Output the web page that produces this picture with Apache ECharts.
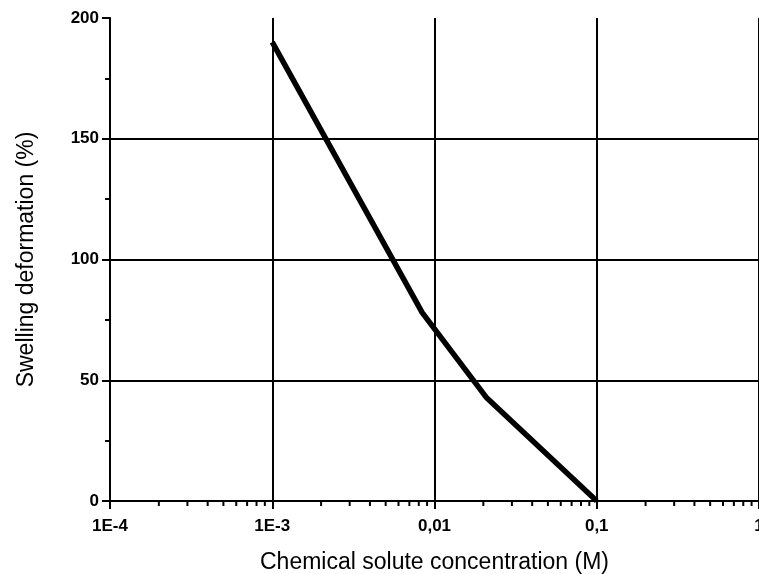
<!DOCTYPE html>
<html><head><meta charset="utf-8">
<script src="https://cdn.jsdelivr.net/npm/echarts@6/dist/echarts.min.js"></script>
<style>html,body{margin:0;padding:0;background:#fff}#c{width:759px;height:574px}</style>
</head><body><div id="c"></div>
<script>
const concentration = [0.001, 0.0084, 0.0208, 0.1];
const swelling = [190, 78, 43, 0];
const xTickLabels = {'-4':'1E-4','-3':'1E-3','-2':'0,01','-1':'0,1','0':'1'};
const yTicks = [0, 50, 100, 150, 200];

const chart = echarts.init(document.getElementById('c'));
const font = 'Liberation Sans, Arial, sans-serif';
chart.setOption({
  animation: false,
  grid: {left: 110, right: 0, top: 18, bottom: 73, containLabel: false, outerBoundsMode: 'none'},
  xAxis: {
    type: 'log', logBase: 10, min: 1e-4, max: 1,
    name: 'Chemical solute concentration (M)', nameLocation: 'middle', nameGap: 50,
    nameTextStyle: {fontFamily: font, fontSize: 23, color: '#000'},
    axisLine: {show: true, onZero: false, lineStyle: {color: '#000', width: 2}},
    axisTick: {show: true, inside: false, length: 8, lineStyle: {color: '#000', width: 2}},
    axisLabel: {fontFamily: font, fontSize: 17, fontWeight: 'bold', color: '#000', margin: 17,
      showMaxLabel: true, hideOverlap: false,
      formatter: v => xTickLabels[String(Math.round(Math.log10(v)))] || ''},
    splitLine: {show: true, lineStyle: {color: '#000', width: 2}},
    minorTick: {show: false}
  },
  yAxis: {
    type: 'value', min: 0, max: 200, interval: 50,
    name: 'Swelling deformation (%)', nameLocation: 'middle', nameGap: 72,
    nameTextStyle: {fontFamily: font, fontSize: 23, color: '#000'},
    axisLine: {show: true, lineStyle: {color: '#000', width: 2}},
    axisTick: {show: true, length: 8, lineStyle: {color: '#000', width: 2}},
    minorTick: {show: true, splitNumber: 2, length: 5, lineStyle: {color: '#000', width: 2}},
    axisLabel: {fontFamily: font, fontSize: 17, fontWeight: 'bold', color: '#000', margin: 11},
    splitLine: {show: true, showMinLine: false, showMaxLine: false, lineStyle: {color: '#000', width: 2}}
  },
  series: [{
    type: 'line', data: concentration.map((x, i) => [x, swelling[i]]),
    symbol: 'none', lineStyle: {color: '#000', width: 5.5}, clip: false
  }]
});

// minor log ticks at 2..9 × 10^k, positioned via the axis scale
const minor = [];
for (let k = -4; k < 0; k++) {
  for (let m = 2; m <= 9; m++) {
    const v = m * Math.pow(10, k);
    const p = chart.convertToPixel({xAxisIndex: 0}, v);
    const y0 = chart.convertToPixel({yAxisIndex: 0}, 0);
    minor.push({type: 'line', shape: {x1: p, y1: y0, x2: p, y2: y0 + 5},
      style: {stroke: '#000', lineWidth: 2}});
  }
}
chart.setOption({graphic: minor});
</script></body></html>
